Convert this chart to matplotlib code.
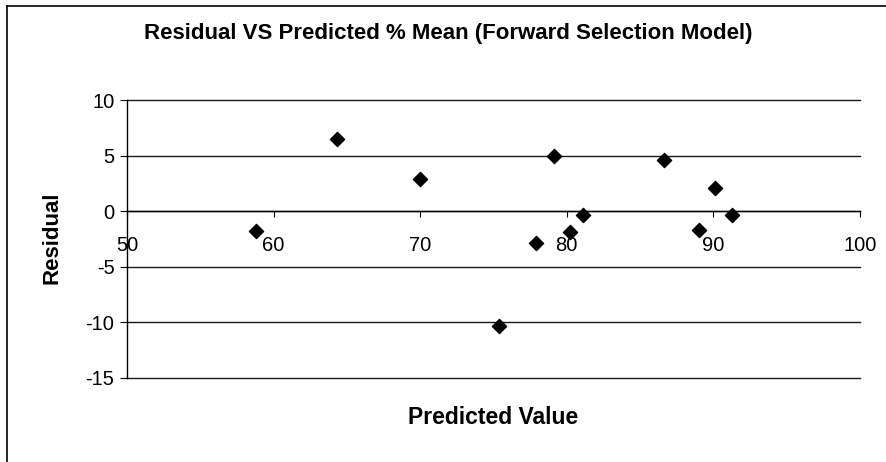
import matplotlib
matplotlib.use("Agg")
import matplotlib.pyplot as plt
from matplotlib.lines import Line2D

# Predicted % mean vs residual for the forward selection model
predicted = [58.8, 64.3, 70.0, 75.4, 77.9, 79.1, 80.2, 81.1, 86.6, 89.0, 90.1, 91.3]
residual = [-1.8, 6.5, 2.9, -10.4, -2.9, 5.0, -1.9, -0.4, 4.6, -1.7, 2.1, -0.4]

x_ticks = [50, 60, 70, 80, 90, 100]
y_ticks = [-15, -10, -5, 0, 5, 10]

plt.rcParams['font.family'] = ['Liberation Sans', 'DejaVu Sans']

fig = plt.figure(figsize=(8.86, 4.62), dpi=100)
ax = fig.add_axes([0.1433, 0.1829, 0.8274, 0.6006])

ax.set_xlim(50, 100)
ax.set_ylim(-15, 10)

# horizontal gridlines
ax.set_yticks(y_ticks)
ax.yaxis.grid(True, color='#1a1a1a', linewidth=1.0)
ax.set_axisbelow(True)
for gl in ax.get_ygridlines():
    gl.set_clip_on(False)

ax.scatter(predicted, residual, marker='D', s=52, color='black', zorder=3)

# x axis crosses at y = 0
ax.spines['bottom'].set_position(('data', 0))
ax.spines['top'].set_visible(False)
ax.spines['right'].set_visible(False)
for s in ('left', 'bottom'):
    ax.spines[s].set_color('black')
    ax.spines[s].set_linewidth(1.0)

ax.set_xticks(x_ticks)
ax.set_xticklabels([str(v) for v in x_ticks])
ax.tick_params(axis='x', direction='out', length=4, width=0.8, pad=14,
               labelsize=14.5, colors='black')
ax.set_yticklabels([str(v) for v in y_ticks])
ax.tick_params(axis='y', direction='out', length=5, width=0.8, pad=4,
               labelsize=14.5, colors='black')

fig.text(0.506, 1 - 34 / 462, 'Residual VS Predicted % Mean (Forward Selection Model)',
         ha='center', va='center', fontsize=16, fontweight='bold')
fig.text(0.557, 1 - 417 / 462, 'Predicted Value', ha='center', va='center',
         fontsize=16.5, fontweight='bold')
fig.text(52 / 886, 1 - 238 / 462, 'Residual', ha='center', va='center',
         rotation=90, fontsize=16, fontweight='bold')

# chart frame (top and left edges)
fig.add_artist(Line2D([7 / 886, 1.0], [1 - 6 / 462, 1 - 6 / 462],
                      transform=fig.transFigure, color='black', linewidth=1.2))
fig.add_artist(Line2D([7 / 886, 7 / 886], [0.0, 1 - 6 / 462],
                      transform=fig.transFigure, color='black', linewidth=1.2))

fig.savefig('out.png', dpi=100)
